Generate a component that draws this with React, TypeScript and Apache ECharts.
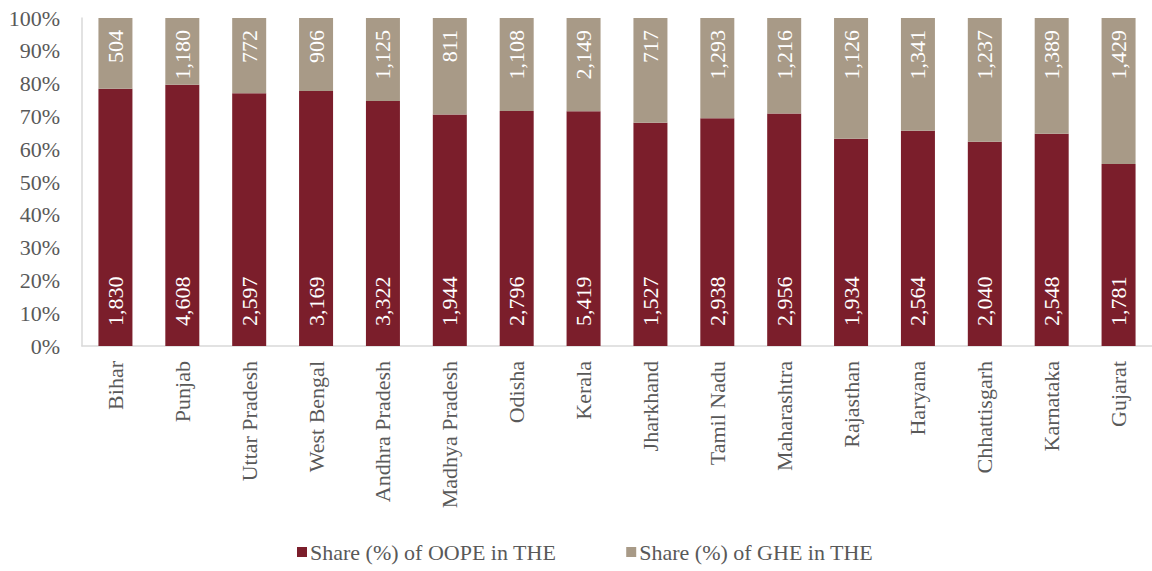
import React, { useEffect, useRef } from "react";
import * as echarts from "echarts";

const states = [
  "Bihar", "Punjab", "Uttar Pradesh", "West Bengal", "Andhra Pradesh", "Madhya Pradesh",
  "Odisha", "Kerala", "Jharkhand", "Tamil Nadu", "Maharashtra", "Rajasthan",
  "Haryana", "Chhattisgarh", "Karnataka", "Gujarat",
];
const oope = [1830, 4608, 2597, 3169, 3322, 1944, 2796, 5419, 1527, 2938, 2956, 1934, 2564, 2040, 2548, 1781];
const ghe = [504, 1180, 772, 906, 1125, 811, 1108, 2149, 717, 1293, 1216, 1126, 1341, 1237, 1389, 1429];

const seriesNames = ["Share (%) of OOPE in THE", "Share (%) of GHE in THE"];
const colors = ["#7B1E2B", "#A89A87"];

const fmt = (n: number) => n.toLocaleString("en-US");

export default function App() {
  const ref = useRef<HTMLDivElement>(null);
  useEffect(() => {
    document.body.style.margin = "0";
    const chart = echarts.init(ref.current!, null, { renderer: "svg" });
    const font = "Times New Roman, Liberation Serif, DejaVu Serif, serif";
    const oopeShare = oope.map((v, i) => ({ value: (v / (v + ghe[i])) * 100, raw: v }));
    const gheShare = ghe.map((v, i) => ({ value: (v / (v + oope[i])) * 100, raw: v }));
    chart.setOption({
      animation: false,
      textStyle: { fontFamily: font },
      grid: { left: 82, right: -11, top: 18, bottom: 225, containLabel: false },
      legend: {
        top: 536,
        left: 292,
        itemWidth: 10,
        itemHeight: 10,
        itemGap: 70,
        icon: "rect",
        textStyle: { fontFamily: font, fontSize: 22, color: "#595959", padding: [0, 0, 0, -2] },
        data: seriesNames,
      },
      xAxis: {
        type: "category",
        data: states,
        axisLine: { show: true, lineStyle: { color: "#D9D9D9", width: 1.5 } },
        axisTick: { show: false },
        axisLabel: {
          rotate: 90,
          interval: 0,
          margin: 15,
          fontFamily: font,
          fontSize: 22,
          color: "#595959",
        },
      },
      yAxis: {
        type: "value",
        min: 0,
        max: 100,
        interval: 10,
        splitLine: { show: false },
        axisLine: { show: true, lineStyle: { color: "#D9D9D9", width: 1.5 } },
        axisTick: { show: false },
        axisLabel: {
          formatter: "{value}%",
          fontFamily: font,
          fontSize: 22,
          color: "#595959",
          margin: 22,
        },
      },
      series: [
        {
          name: seriesNames[0],
          type: "bar",
          stack: "total",
          barWidth: 34,
          itemStyle: { color: colors[0] },
          data: oopeShare,
          label: {
            show: true,
            position: "insideBottom",
            rotate: 90,
            align: "left",
            verticalAlign: "middle",
            distance: 20,
            fontFamily: font,
            fontSize: 22,
            color: "#FFFFFF",
            formatter: (p: any) => fmt(p.data.raw),
          },
        },
        {
          name: seriesNames[1],
          type: "bar",
          stack: "total",
          barWidth: 34,
          itemStyle: { color: colors[1] },
          data: gheShare,
          label: {
            show: true,
            position: "insideTop",
            rotate: 90,
            align: "right",
            verticalAlign: "middle",
            distance: 12,
            fontFamily: font,
            fontSize: 22,
            color: "#FFFFFF",
            formatter: (p: any) => fmt(p.data.raw),
          },
        },
      ],
    });
    return () => chart.dispose();
  }, []);
  return <div ref={ref} style={{ width: 1152, height: 571 }} />;
}
